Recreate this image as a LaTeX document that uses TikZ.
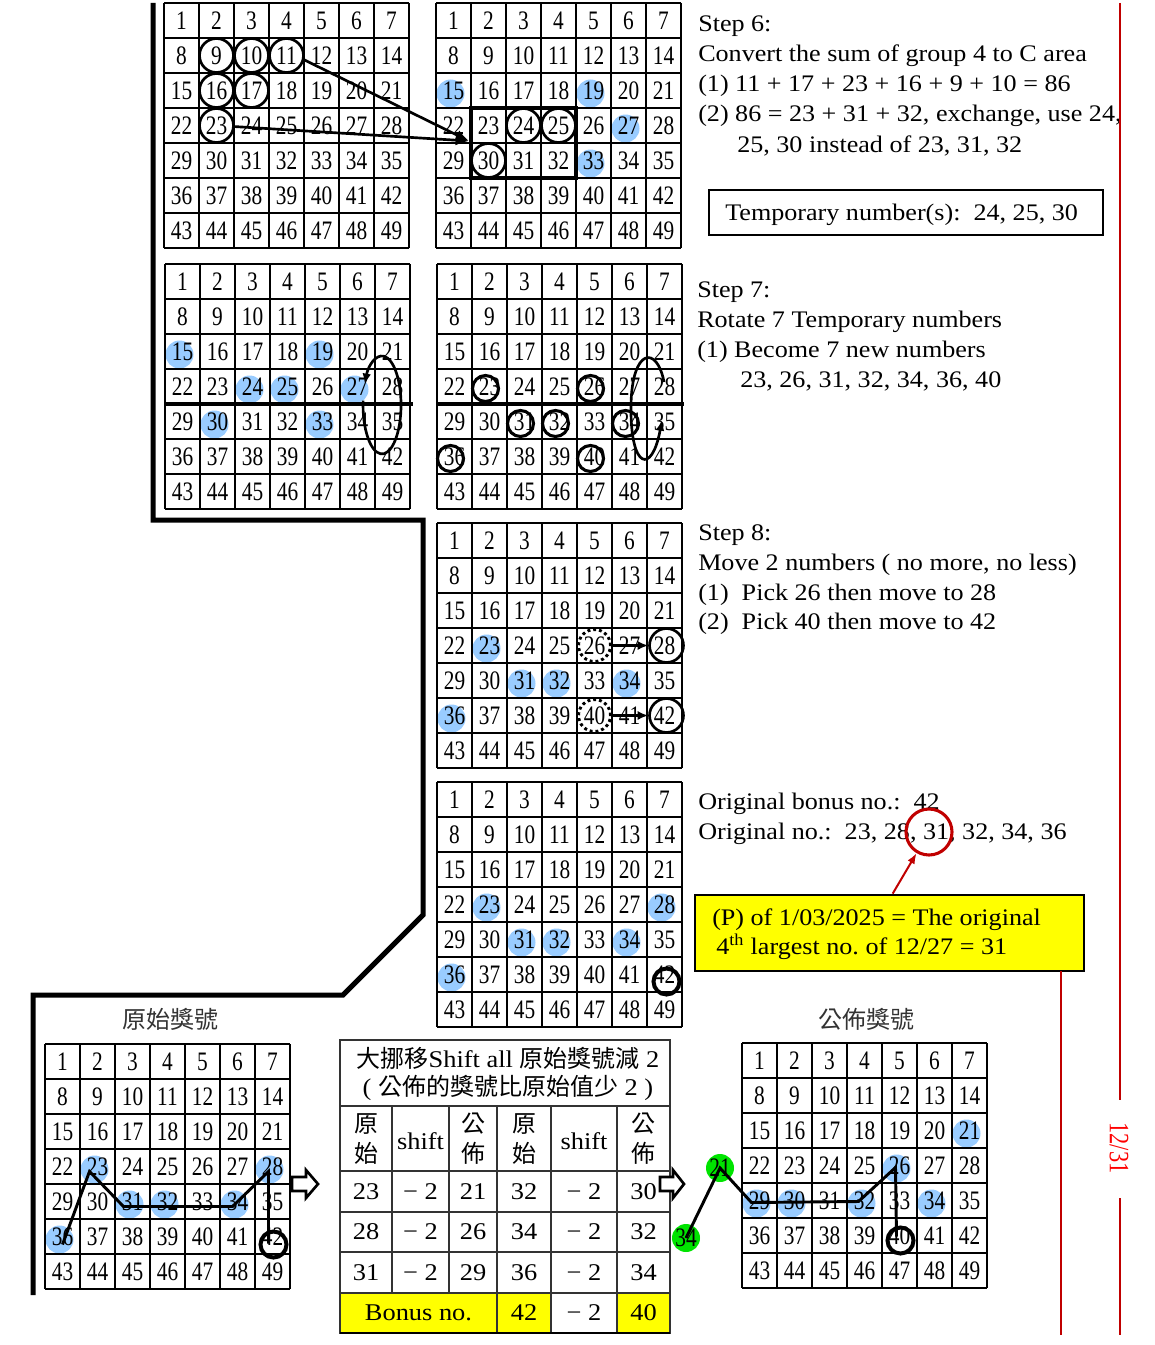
\documentclass[tikz,border=0pt]{standalone}
\usepackage{fontspec}
\setmainfont[FakeStretch=1.1]{Liberation Serif}
\newfontfamily\gridfont[FakeStretch=0.8]{Liberation Serif}
\newfontfamily\cjk{Noto Sans CJK TC}
\usetikzlibrary{calc,arrows.meta}
\definecolor{lblue}{RGB}{153,204,255}
\definecolor{dred}{RGB}{192,0,0}
\definecolor{lgreen}{RGB}{0,228,0}
\definecolor{yel}{RGB}{255,255,0}

\newcommand{\numgrid}[3]{%
  \foreach \r in {0,...,6}{\foreach \c in {0,...,6}{%
    \pgfmathtruncatemacro{\n}{\r*7+\c+1}%
    \node[cellnum] (#1-\n) at ({#2+35*\c+17.5},{#3+35*\r+17.5}) {\n};}}%
  \foreach \i in {0,...,7}{%
    \draw[gridline] ({#2+35*\i},#3) -- ({#2+35*\i},{#3+245});
    \draw[gridline] (#2,{#3+35*\i}) -- ({#2+245},{#3+35*\i});}%
}
\newcommand{\bluedots}[3]{%
  \foreach \n in {#3}{%
    \pgfmathtruncatemacro{\rr}{int((\n-1)/7)}%
    \pgfmathtruncatemacro{\cc}{mod(\n-1,7)}%
    \fill[bluedot] ({#1+35*\cc+17.5-3},{#2+35*\rr+17.5+3}) circle[radius=14];}%
}

\begin{document}
\begin{tikzpicture}[x=0.75pt,y=-0.75pt,
  cellnum/.style={font=\gridfont\fontsize{20}{20}\selectfont, inner sep=0pt},
  gridline/.style={line width=0.9pt, black},
  bluedot/.style={fill=lblue},
  ring/.style={draw, circle, line width=2pt, minimum size=#1*1.5pt, inner sep=0pt},
  dring/.style={draw, circle, line width=2.3pt, minimum size=#1*1.5pt, inner sep=0pt},
  thickring/.style={draw, circle, line width=3pt, minimum size=#1*1.5pt, inner sep=0pt},
  dotring/.style={draw, circle, line width=2.2pt, dash pattern=on 2.2pt off 2.2pt, minimum size=#1*1.5pt, inner sep=0pt},
  bigarrow/.style={line width=2pt, -{Latex[length=10pt,width=8pt]}},
  loopline/.style={line width=2pt, -{Latex[length=8pt,width=6.5pt]}},
  smallarrow/.style={line width=2pt, -{Latex[length=8pt,width=7pt]}},
  route/.style={line width=3.75pt, line join=miter},
  pline/.style={line width=2.2pt, line join=miter},
  divider/.style={line width=2.3pt},
  steptext/.style={anchor=base west, inner sep=0pt, font=\fontsize{17.8}{20}\selectfont},
  tabtext/.style={font=\fontsize{18}{20}\selectfont, inner sep=0pt},
  tabcjk/.style={font=\cjk\fontsize{18}{22.5}\selectfont, inner sep=0pt, align=center},
  tabline/.style={line width=0.8pt, black!80},
  title/.style={font=\cjk\fontsize{18}{20}\selectfont, text=black!80, inner sep=0pt},
  redline/.style={dred, line width=2pt},
  blockarrow/.style={draw, line width=2pt, fill=white, line join=miter},
  greendot/.style={circle, fill=lgreen, minimum size=21pt, inner sep=0pt, font=\gridfont\fontsize{20}{20}\selectfont},
]
\useasboundingbox (0,0) rectangle (1154,1345);

% thick route line
\draw[route] (153,3) -- (153,520) -- (423,520) -- (423,915) -- (343,995) -- (33,995) -- (33,1295);

% ---------- grids ----------
\numgrid{A}{164}{3}
\bluedots{436}{3}{15,19,27,33}
\numgrid{B}{436}{3}
\bluedots{165}{264}{15,19,24,25,27,30,33}
\numgrid{C}{165}{264}
\numgrid{D}{437}{264}
\bluedots{437}{523}{23,31,32,34,36}
\numgrid{E}{437}{523}
\bluedots{437}{782}{23,28,31,32,34,36}
\numgrid{F}{437}{782}
\bluedots{45}{1044}{23,28,31,32,34,36}
\numgrid{G}{45}{1044}
\bluedots{742}{1043}{21,26,29,30,32,34}
\numgrid{H}{742}{1043}

% ---------- grid A / B (step 6) ----------
\foreach \k in {9,10,11,16,17,23} \node[ring=17] (a\k) at (A-\k) {};
\draw[line width=2.3pt] (471,108) rectangle (576,178);
\foreach \k in {24,25,30} \node[ring=17] (b\k) at (B-\k) {};
\coordinate (boxW) at (469,141);
\draw[bigarrow] ($(A-11)+(17,4)$) -- (boxW);
\draw[bigarrow] ($(A-23)+(17,1)$) -- (boxW);

% ---------- grid C / D (step 7) ----------
\draw[divider] (164,404) -- (413,404);
\draw[divider] (436,404) -- (684,404);
\draw[loopline] (363.1,400.7) arc[start angle=185, end angle=-155, x radius=19, y radius=49];
\foreach \k in {23,26,31,32,34,36,40} \node[dring=13] (d\k) at ($(D-\k)+(-4,2)$) {};
\draw[loopline] (664,382) .. controls (657,345) and (632,348) .. (631,405) .. controls (630,470) and (652,475) .. (662,420);

% ---------- grid E (step 8) ----------
\node[dotring=16] (e26) at (E-26) {};
\node[dotring=16] (e40) at (E-40) {};
\node[ring=17] (e28) at ($(E-28)+(2,0)$) {};
\node[ring=17] (e42) at ($(E-42)+(2,0)$) {};
\draw[smallarrow] (e26) -- (e28);
\draw[smallarrow] (e40) -- (e42);

% ---------- grid F ----------
\node[thickring=13] (f42) at ($(F-42)+(2,7)$) {};

% ---------- grid G ----------
\node[title] (tG) at (170,1019) {原始獎號};
\draw[pline] ($(G-36)+(0,8)$) -- ($(G-23)+(-8,5)$) -- ($(G-31)+(-9,5)$) -- ($(G-34)+(-5,5)$) -- ($(G-28)+(-4,5)$) -- ($(G-42)+(-4,7)$);
\node[thickring=13] (g42) at ($(G-42)+(1,8)$) {};

% ---------- grid H ----------
\node[title] (tH) at (866,1019) {公佈獎號};
\node[greendot] (g21) at (720,1168) {21};
\node[greendot] (g34) at (686,1238) {34};
\draw[pline] (g34.center) -- (g21.center) -- ($(H-29)+(-8,2)$) -- ($(H-32)+(-6,1)$) -- ($(H-26)+(-4,2)$) -- ($(H-40)+(-3,1)$);
\node[thickring=13] (h40) at ($(H-40)+(1,5)$) {};

% ---------- table ----------
\fill[yel] (340,1293) rectangle (551,1333);
\fill[yel] (617,1293) rectangle (670,1333);
\draw[tabline] (340,1040) rectangle (670,1333);
\foreach \yy in {1106,1171,1212,1252,1293} \draw[tabline] (340,\yy) -- (670,\yy);
\foreach \xx in {392,449} \draw[tabline] (\xx,1106) -- (\xx,1293);
\foreach \xx in {497,551,617} \draw[tabline] (\xx,1106) -- (\xx,1333);
\draw[line width=1.2pt] (340,1333) -- (670,1333);
\node[tabtext] (th1) at (508,1058) {{\cjk 大挪移}Shift all {\cjk 原始獎號減} 2};
\node[tabtext] (th2) at (508,1088) {( {\cjk 公佈的獎號比原始值少} 2 )};
\node[tabcjk] (h1) at (366,1139) {原\\始};
\node[tabtext] (h2) at (420.5,1141) {shift};
\node[tabcjk] (h3) at (473,1139) {公\\佈};
\node[tabcjk] (h4) at (524,1139) {原\\始};
\node[tabtext] (h5) at (584,1141) {shift};
\node[tabcjk] (h6) at (643.5,1139) {公\\佈};
\foreach \a/\b/\c/\d/\e/\f/\y [count=\i] in {23/− 2/21/32/− 2/30/1191.5, 28/− 2/26/34/− 2/32/1232, 31/− 2/29/36/− 2/34/1272.5}{
  \node[tabtext] (r\i c1) at (366,\y) {\a};
  \node[tabtext] (r\i c2) at (420.5,\y) {\b};
  \node[tabtext] (r\i c3) at (473,\y) {\c};
  \node[tabtext] (r\i c4) at (524,\y) {\d};
  \node[tabtext] (r\i c5) at (584,\y) {\e};
  \node[tabtext] (r\i c6) at (643.5,\y) {\f};
}
\node[tabtext] (bn) at (418.5,1313) {Bonus no.};
\node[tabtext] (b42) at (524,1313) {42};
\node[tabtext] (bsh) at (584,1313) {− 2};
\node[tabtext] (b40) at (643.5,1313) {40};

% block arrows
\draw[blockarrow] (292,1177) -- (306,1177) -- (306,1170) -- (318,1184) -- (306,1198) -- (306,1191) -- (292,1191) -- cycle;
\draw[blockarrow] (660,1177) -- (673,1177) -- (673,1170) -- (684,1184) -- (673,1198) -- (673,1191) -- (660,1191) -- cycle;

% ---------- texts on the right ----------
\node[steptext] (s6a) at (698,32) {Step 6:};
\node[steptext] (s6b) at (698,62) {Convert the sum of group 4 to C area};
\node[steptext] (s6c) at (698,92) {(1) 11 + 17 + 23 + 16 + 9 + 10 = 86};
\node[steptext] (s6d) at (698,122) {(2) 86 = 23 + 31 + 32, exchange, use 24,};
\node[steptext] (s6e) at (737,152) {25, 30 instead of 23, 31, 32};
\node[draw, line width=1.5pt, minimum width=295.5pt, minimum height=33.75pt, inner sep=0pt] (tbox) at (906,212.5) {};
\node[steptext] (tmp) at (725,220) {Temporary number(s):\ \ 24, 25, 30};

\node[steptext] (s7a) at (697,297) {Step 7:};
\node[steptext] (s7b) at (697,327) {Rotate 7 Temporary numbers};
\node[steptext] (s7c) at (697,357) {(1) Become 7 new numbers};
\node[steptext] (s7d) at (740,387) {23, 26, 31, 32, 34, 36, 40};

\node[steptext] (s8a) at (698,540) {Step 8:};
\node[steptext] (s8b) at (698,570) {Move 2 numbers ( no more, no less)};
\node[steptext] (s8c) at (698,600) {(1)\ \ Pick 26 then move to 28};
\node[steptext] (s8d) at (698,629) {(2)\ \ Pick 40 then move to 42};

\node[steptext] (ob) at (698,809) {Original bonus no.:\ \ 42};
\node[steptext] (on) at (698,839) {Original no.:\ \ 23, 28, 31, 32, 34, 36};
\node[draw=dred, circle, line width=2.3pt, minimum size=34.5pt, inner sep=0pt] (redc) at (929,832) {};

\node[draw, fill=yel, line width=2pt, minimum width=291.75pt, minimum height=57pt, inner sep=0pt] (pbox) at (889.5,933) {};
\node[steptext] (p1) at (712,925) {(P) of 1/03/2025 = The original};
\node[steptext] (p2) at (716,954) {4\textsuperscript{th} largest no.\ of 12/27 = 31};
\draw[dred, line width=1.5pt, -{Latex[length=8pt,width=6pt]}] ($(pbox.north west)+(199,0)$) -- (redc);

% red lines
\draw[redline] (1120,3) -- (1120,1100);
\draw[redline] (1120,1198) -- (1120,1335);
\draw[redline] (1061,971) -- (1061,1335);
\node[text=red, rotate=-90, font=\gridfont\fontsize{21}{21}\selectfont, inner sep=0pt] (date) at (1119,1148) {12/31};
\end{tikzpicture}
\end{document}
